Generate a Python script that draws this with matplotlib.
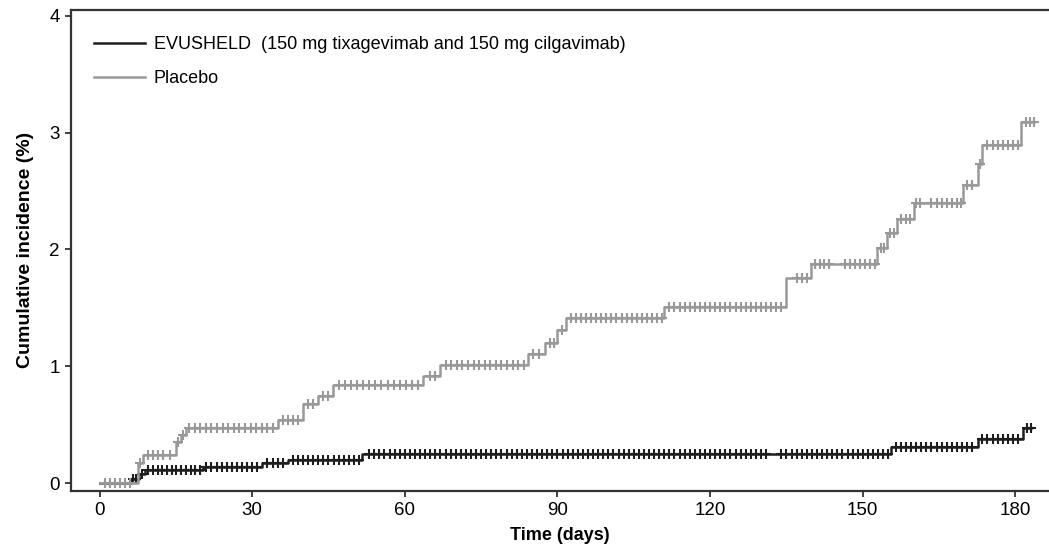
import matplotlib.pyplot as plt
import numpy as np

plt.rcParams['font.family'] = ['Liberation Sans', 'DejaVu Sans']

# Kaplan-Meier step curves: time of each step (days) and cumulative incidence (%)
evu_t = [0, 6.2, 7.8, 8.9, 20.4, 32.0, 37.0, 51.6, 155.5, 172.7, 181.4]
evu_s = [0, 0.04, 0.08, 0.11, 0.14, 0.17, 0.20, 0.25, 0.31, 0.38, 0.47]
evu_end = 183.0

pla_t = [0, 7.5, 8.5, 15.0, 16.0, 17.0, 35.0, 40.0, 43.0, 45.9, 63.6, 67.0,
         84.2, 87.5, 89.9, 91.7, 110.9, 134.9, 139.8, 152.8, 154.7, 156.7,
         160.0, 169.7, 172.7, 173.4, 181.0]
pla_s = [0, 0.17, 0.24, 0.35, 0.41, 0.47, 0.54, 0.68, 0.75, 0.84, 0.92, 1.01,
         1.11, 1.20, 1.31, 1.41, 1.51, 1.76, 1.88, 2.01, 2.14, 2.26,
         2.40, 2.55, 2.73, 2.89, 3.09]
pla_end = 183.6

# censoring times (days)
evu_cens = [6.5, 7.2, 8.3, 9.6, 10.5, 11.4, 12.3, 13.3, 14.2, 15.1, 16.1, 17.0, 17.9, 18.8, 19.8,
            21, 22, 23, 24, 25, 26, 27, 28, 29, 30, 31,
            33, 34, 35, 36,
            38, 39, 40, 41, 42, 43, 44, 45, 46, 47, 48, 49, 50, 51,
            53, 54, 55, 56, 57, 58, 59, 60, 61, 62, 63, 64, 65, 66, 67, 68, 69, 70,
            71, 72, 73, 74, 75, 76, 77, 78, 79, 80, 81, 82, 83, 84, 85, 86, 87, 88,
            89, 90, 91, 92, 93, 94, 95, 96, 97, 98, 99, 100, 101, 102, 103, 104, 105,
            106, 107, 108, 109, 110, 111, 112, 113, 114, 115, 116, 117, 118, 119, 120,
            121, 122, 123, 124, 125, 126, 127, 128, 129, 130, 131,
            134, 135, 136, 137, 138, 139, 140, 141, 142, 143, 144, 145, 146, 147, 148,
            149, 150, 151, 152, 153, 154, 155,
            156.5, 157.5, 158.5, 159.5, 160.5, 161.5, 162.5, 163.5, 164.5, 165.5, 166.5,
            167.5, 168.5, 169.5, 170.5, 171.5,
            173.5, 174.5, 175.5, 176.5, 177.5, 178.5, 179.5, 180.6,
            182.2, 183.0]

pla_cens = [1.0, 2.0, 3.0, 4.0, 5.0, 6.0,
            7.9,
            9.5, 10.5, 11.5, 12.5, 13.8,
            15.5, 16.4,
            17.6, 18.7, 19.8, 20.9, 22.0, 23.1, 24.2, 25.3, 26.4, 27.5, 28.6, 29.7,
            30.8, 31.9, 33.0, 34.1,
            36.0, 37.0, 38.0, 39.0,
            41.0, 42.0,
            44.0, 45.0,
            47.0, 48.2, 49.4, 50.6, 51.8, 53.0, 54.2, 55.4, 56.6, 57.8, 59.0, 60.2,
            61.4, 62.6,
            65.0, 66.0,
            68.0, 69.1, 70.2, 71.3, 72.4, 73.5, 74.6, 75.7, 76.8, 77.9, 79.0, 80.1,
            81.2, 82.3, 83.4,
            85.2, 86.3,
            88.5, 89.3,
            90.8,
            92.6, 93.6, 94.6, 95.6, 96.6, 97.6, 98.6, 99.6, 100.6, 101.6, 102.6, 103.6,
            104.6, 105.6, 106.6, 107.6, 108.6, 109.6, 110.5,
            112, 113, 114, 115, 116, 117, 118, 119, 120, 121, 122, 123, 124, 125, 126,
            127, 128, 129, 130, 131, 132, 133, 134,
            137.0, 138.0, 139.0,
            140.6, 141.5, 142.4, 143.3, 146.5, 147.5, 148.5, 149.5, 150.5, 151.5, 152.4,
            153.5, 154.2,
            155.4, 156.2,
            157.5, 158.5, 159.3,
            160.5, 161.2, 163.5, 164.5, 165.5, 166.5, 167.5, 168.5, 169.3,
            170.5, 171.5,
            173.0,
            174.5, 175.5, 176.5, 177.5, 178.5, 179.5, 180.5,
            182.0, 182.8, 183.6]

labels = ['EVUSHELD  (150 mg tixagevimab and 150 mg cilgavimab)', 'Placebo']
colors = ['#1e1e1e', '#999999']


def km_value(t, s, x):
    idx = np.searchsorted(np.array(t), np.array(x), side='right') - 1
    return np.array(s)[idx]


fig = plt.figure(figsize=(10.49, 5.47), dpi=100)
ax = fig.add_axes([0.0677, 0.103, 0.9323, 0.879])

for t, s, end, cens, c, lab, z in [(evu_t, evu_s, evu_end, evu_cens, colors[0], labels[0], 2),
                                   (pla_t, pla_s, pla_end, pla_cens, colors[1], labels[1], 3)]:
    ax.step(t + [end], s + [s[-1]], where='post', color=c, lw=1.8, label=lab, zorder=z)
    ax.plot(cens, km_value(t, s, cens), ls='none', marker='+', ms=6.5, mew=1.5,
            color=c, zorder=z)

ax.set_xlim(-5.6, 186.6)
ax.set_ylim(-0.063, 4.05)
ax.set_xticks([0, 30, 60, 90, 120, 150, 180])
ax.set_yticks([0, 1, 2, 3, 4])

for sp in ['left', 'bottom', 'top']:
    ax.spines[sp].set_linewidth(1.6)
    ax.spines[sp].set_color('#333333')
ax.spines['right'].set_visible(False)
ax.tick_params(direction='out', length=4, width=1.3, color='#333333',
               labelsize=13.5, pad=4)

ax.set_xlabel('Time (days)', fontsize=13, fontweight='bold', labelpad=6)
ax.set_ylabel('Cumulative incidence (%)', fontsize=14, fontweight='bold', labelpad=11)

ax.legend(loc='upper left', bbox_to_anchor=(94 / 1049, 1 - 36 / 547),
          bbox_transform=fig.transFigure, frameon=False, fontsize=13,
          handlelength=2.8, handletextpad=0.5, labelspacing=0.95,
          borderpad=0, borderaxespad=0)

plt.savefig('out.png', dpi=100)
